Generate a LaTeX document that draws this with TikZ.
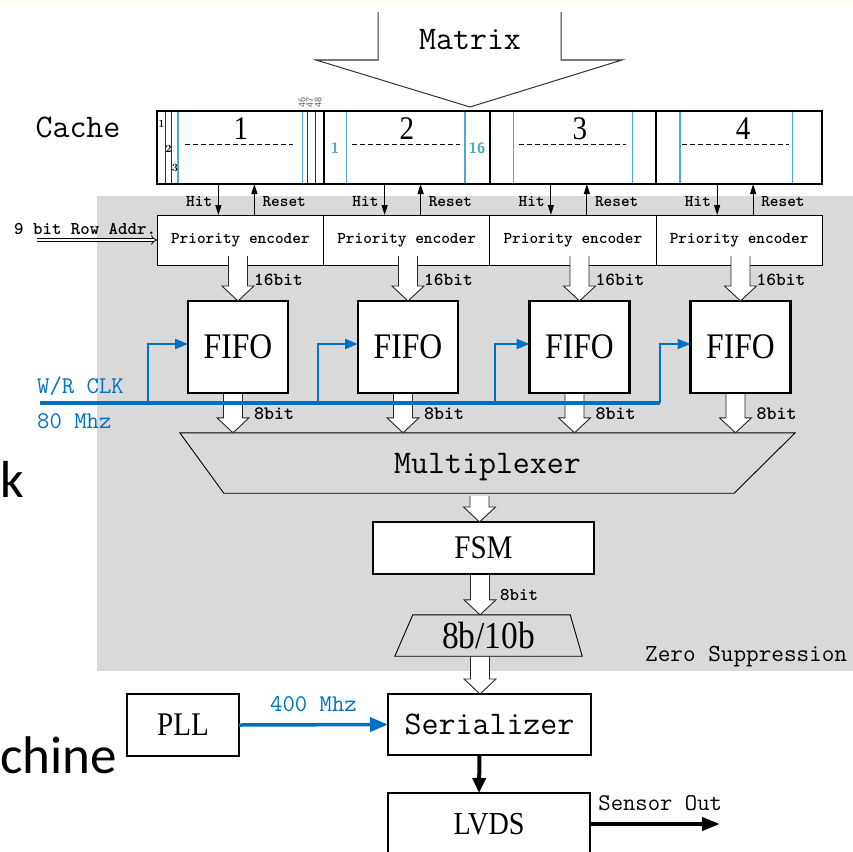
\documentclass[tikz,border=0pt]{standalone}
\usepackage{fontspec}
\usetikzlibrary{arrows.meta,positioning,calc}
\newfontfamily\blockfont[FakeStretch=0.88]{Liberation Serif}
\newfontfamily\slidefont{Carlito}
\newcommand\fsz[1]{\fontsize{#1}{#1}\selectfont}
\definecolor{clkblue}{RGB}{0,112,192}
\definecolor{colblue}{RGB}{75,172,198}
\definecolor{panel}{RGB}{217,217,217}
\definecolor{pale}{RGB}{253,253,238}
\tikzset{
  >={Triangle[length=10pt,width=6pt]},
  cell/.style={draw,line width=2pt,fill=white,minimum width=166.25pt,minimum height=73pt,
    inner sep=0pt,outer sep=0pt},
  enc/.style={draw,line width=1pt,fill=white,minimum width=166.25pt,minimum height=50pt,
    inner sep=0pt,outer sep=0pt,font=\ttfamily\bfseries\fsz{16.5}},
  unit/.style={draw,line width=2.2pt,fill=white,inner sep=0pt,outer sep=0pt,align=center},
  % wide hollow arrow, straight down from the start to the level of the target
  pipe/.style={fill=white,draw=black!85,line width=0.9pt,
    to path={let \p1=(\tikztostart),\p2=(\tikztotarget) in
      (\x1-9.5pt,\y1) -- (\x1-9.5pt,\y2+15pt) -- (\x1-16pt,\y2+15pt) -- (\x1,\y2)
      -- (\x1+16pt,\y2+15pt) -- (\x1+9.5pt,\y2+15pt) -- (\x1+9.5pt,\y1)}},
  clk/.style={draw=clkblue,line width=2pt,-{Triangle[length=13pt,width=10pt]}},
  tag/.style={font=\ttfamily\bfseries\fsz{17},inner sep=0pt},
  headline/.style={font=\ttfamily\fsz{33},inner sep=0pt},
  blue tag/.style={font=\ttfamily\fsz{24},text=clkblue,inner sep=0pt},
}

\begin{document}
\begin{tikzpicture}[x=1pt,y=-1pt,node distance=0pt]
  \useasboundingbox (0,0) rectangle (853,851);
  \clip (0,0) rectangle (853,851);
  \fill[pale] (0,0) rectangle (853,4);
  \fill[panel] (97,196) rectangle (853,671);

  \node[font=\slidefont\fsz{52},anchor=base west,inner sep=0pt] (slk) at (0,497) {k};
  \node[font=\slidefont\fsz{53},anchor=base west,inner sep=0pt] (slchine) at (0,773) {chine};

  % input from the pixel matrix
  \node[headline] (mtx) at (470,40) {Matrix};
  \draw[black!80,line width=1pt] (378,12) -- (378,60) -- (316,60) -- (470,107)
    -- (622,60) -- (561,60) -- (561,12);

  % cache, four blocks of columns
  \node[headline,anchor=base] (cachelbl) at (78,137) {Cache};
  \node[cell] (c1) at (240.375,147.5) {};
  \node[cell,right=of c1] (c2) {};
  \node[cell,right=of c2] (c3) {};
  \node[cell,right=of c3] (c4) {};
  \foreach \px in {165,171.5,307.7,315.7}
    \draw[black!80,line width=0.9pt] (\px,112) -- (\px,183);
  \foreach \px in {178,302.5,346.7,465,513.3,632.3,680,792.7}
    \draw[colblue,line width=1.2pt] (\px,112) -- (\px,183);
  \foreach \a/\b in {185/293,352/460,519/626,682/789}
    \draw[dash pattern=on 5pt off 3pt,line width=0.8pt] (\a,144) -- (\b,144);
  \foreach \i/\px in {1/241,2/407,3/580,4/743}
    \node[font=\blockfont\fsz{33}] (num\i) at (\px,129) {\i};
  \foreach \t/\px/\py in {1/161.5/124,2/168.5/149,3/175/168}
    \node[font=\bfseries\fsz{11},inner sep=0pt] (col\t) at (\px,\py) {\t};
  \foreach \t/\px in {46/302,47/310,48/318}
    \node[rotate=90,font=\sffamily\fsz{10},text=black!65,inner sep=0pt] (col\t) at (\px,102) {\t};
  \node[font=\sffamily\bfseries\fsz{15},text=colblue] (cfirst) at (335,148) {1};
  \node[font=\sffamily\bfseries\fsz{15},text=colblue] (clast) at (477,148) {16};

  % priority encoders
  \node[enc] (e1) at (240.375,240) {Priority encoder};
  \node[enc,right=of e1] (e2) {Priority encoder};
  \node[enc,right=of e2] (e3) {Priority encoder};
  \node[enc,right=of e3] (e4) {Priority encoder};
  \foreach \i in {1,...,4} {
    \draw[->,line width=1.2pt] ([xshift=-22pt]c\i.south) -- ([xshift=-22pt]e\i.north);
    \draw[->,line width=1.2pt] ([xshift=14pt]e\i.north) -- ([xshift=14pt]c\i.south);
    \node[tag,font=\ttfamily\bfseries\fsz{16.5},anchor=base east] (hit\i) at ([xshift=-28pt,yshift=9pt]e\i.north) {Hit};
    \node[tag,font=\ttfamily\bfseries\fsz{16.5},anchor=base west] (rst\i) at ([xshift=22pt,yshift=9pt]e\i.north) {Reset};
  }
  \coordinate (rowin) at (37,240);
  \node[tag,font=\ttfamily\bfseries\fsz{18},anchor=base west] (rowlbl) at (14,234) {9 bit Row Addr.};
  \draw[double,double distance=2.5pt,line width=0.7pt,-Implies] (rowin) -- (e1.west);

  % FIFOs
  \foreach \i/\px in {1/238,2/408,3/579.5,4/740.5}
    \node[unit,minimum width=100pt,minimum height=92pt,font=\blockfont\fsz{36}] (f\i) at (\px,347) {FIFO};

  \node[minimum width=615pt,minimum height=60pt,inner sep=0pt] (mux) at (487.5,463) {};
  \draw[line width=0.9pt] (mux.north west) -- (mux.north east) -- ([xshift=-61pt]mux.south east)
    -- ([xshift=44pt]mux.south west) -- cycle;
  \node[headline] (muxlbl) at ([yshift=-4pt]mux.center) {Multiplexer};

  \foreach \i in {1,...,4} {
    \draw[pipe] ($(f\i.north |- e\i.south)+(0,-9)$) to (f\i.north);
    \node[tag,font=\ttfamily\bfseries\fsz{18.5},anchor=base west] (w\i) at ($(f\i.north)+(16,-16)$) {16bit};
    \draw[pipe] ($(f\i.south)+(-5,1)$) to (mux.north);
    \node[tag,font=\ttfamily\bfseries\fsz{19},anchor=base west] (n\i) at ($(f\i.south)+(16,26)$) {8bit};
  }

  % write/read clock
  \coordinate (clkin) at (40,403);
  \foreach \i/\px in {1/148,2/318,3/495,4/660}
    \coordinate (tap\i) at (\px,403);
  \draw[clkblue,line width=4pt] (clkin) -- (tap4);
  \foreach \i in {1,...,4}
    \draw[clk] (tap\i) |- ([yshift=3pt]f\i.west);
  \node[blue tag,anchor=base west] (clklbl) at (37,393) {W/R CLK};
  \node[blue tag,anchor=base west] (clkfreq) at (37,428) {80 Mhz};

  % output chain
  \node[unit,minimum width=221pt,minimum height=52pt,font=\blockfont\fsz{33}] (fsm) at (483.5,548) {FSM};
  \node[minimum width=187pt,minimum height=41pt,inner sep=0pt,font=\blockfont\fsz{38}] (coder) at (488.5,635.5) {8b/10b};
  \draw[line width=0.9pt] (coder.south west) -- (coder.south east) -- ([xshift=-12pt]coder.north east)
    -- ([xshift=18pt]coder.north west) -- cycle;
  \node[font=\ttfamily\fsz{24.5},anchor=base west,inner sep=0pt] (zs) at (645,661) {Zero Suppression};
  \node[unit,minimum width=203pt,minimum height=61pt,font=\ttfamily\fsz{33}] (ser) at (489.5,724.5) {Serializer};
  \node[unit,minimum width=112pt,minimum height=62pt,font=\blockfont\fsz{33}] (pll) at (183,725) {PLL};
  \node[unit,minimum width=202pt,minimum height=62pt,font=\blockfont\fsz{32}] (lvds) at (489,824) {LVDS};
  \coordinate (out) at (720,824);

  \draw[pipe] ($(fsm.north |- mux.south)+(-4,3)$) to (fsm.north);
  \draw[pipe] ($(fsm.south)+(-3.5,1)$) to (coder.north);
  \node[tag,font=\ttfamily\bfseries\fsz{18},anchor=base west] (n9) at ($(fsm.south)+(16.5,26)$) {8bit};
  \draw[pipe] ($(coder.south)+(-8.5,1)$) to (ser.north);

  \draw[clkblue,line width=3.5pt,-{Triangle[length=18pt,width=14pt]}] (pll.east) -- (ser.west)
    node[blue tag,midway,anchor=base,yshift=13pt] {400 Mhz};
  \draw[line width=4pt,-{Triangle[length=15pt,width=13pt]}] ([xshift=-10pt]ser.south) -- ([xshift=-10pt]lvds.north);
  \draw[line width=4pt,-{Triangle[length=18pt,width=13pt]}] (lvds.east) -- (out)
    node[pos=0.54,anchor=base,yshift=14pt,font=\ttfamily\fsz{24},inner sep=0pt] {Sensor Out};
\end{tikzpicture}
\end{document}
